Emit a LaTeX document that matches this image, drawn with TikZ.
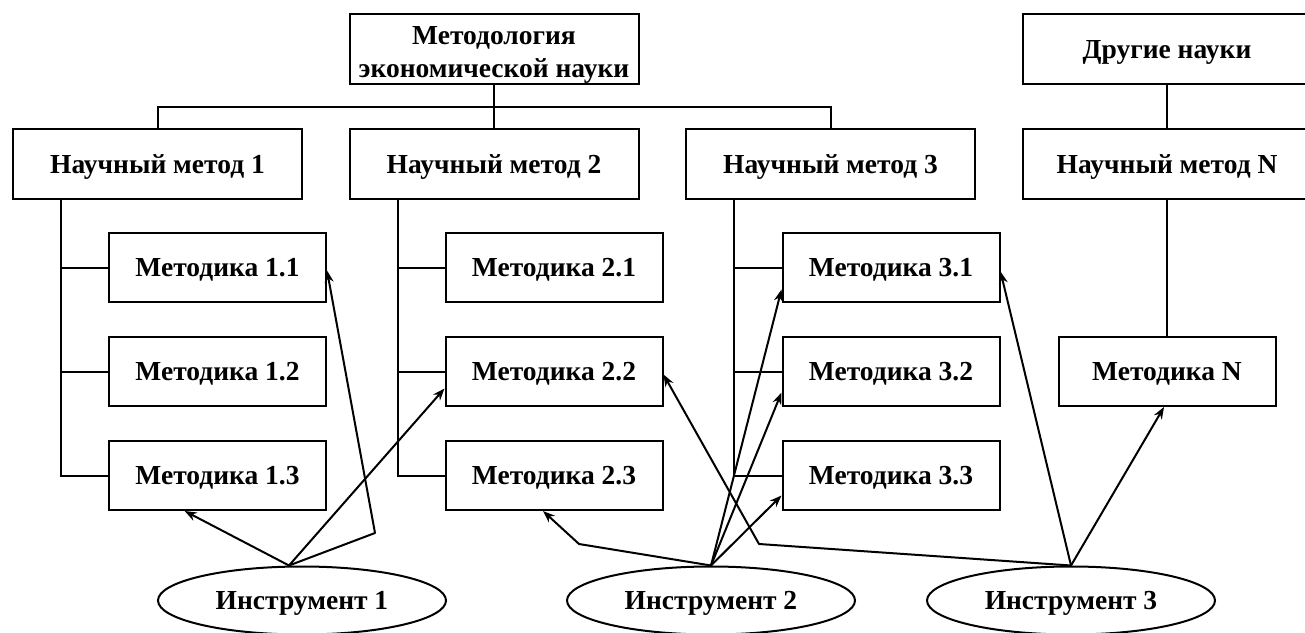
\documentclass[tikz,border=0pt]{standalone}
\usepackage{fontspec}
\setmainfont{Liberation Serif}
\usetikzlibrary{shapes.geometric,arrows.meta,calc}
\begin{document}
\begin{tikzpicture}[x=1bp,y=-1bp,
  every node/.style={font=\fontsize{27.5bp}{33bp}\selectfont\bfseries},
  oneline/.style={text height=21.5bp, text depth=3bp},
  lvl/.style={draw, line width=2bp, inner sep=0pt, minimum width=289bp, minimum height=70bp, align=center},
  mbox/.style={draw, oneline, line width=2bp, inner sep=0pt, minimum width=217bp, minimum height=69bp},
  tool/.style={draw, oneline, ellipse, line width=2bp, inner sep=0pt, minimum width=288bp, minimum height=68bp},
  link/.style={line width=2bp},
  ref/.style={line width=2bp, line join=round, -{Stealth[length=12bp,width=9bp]}}
]
\useasboundingbox (0,0) rectangle (1305,633);
\clip (0,0) rectangle (1305,633);

% top level
\node[lvl] (top) at (494,49)
  {\raisebox{-12bp}[0pt][0pt]{\begin{tabular}{@{}c@{}}Методология\\экономической науки\end{tabular}}};
\node[lvl, oneline] (other) at (1167,49) {Другие науки};

% scientific methods
\node[lvl, oneline] (nm1) at (157.5,164) {Научный метод 1};
\node[lvl, oneline] (nm2) at (494,164) {Научный метод 2};
\node[lvl, oneline] (nm3) at (830.5,164) {Научный метод 3};
\node[lvl, oneline] (nmN) at (1167,164) {Научный метод N};

% techniques
\node[mbox] (m11) at (217.5,267.5) {Методика 1.1};
\node[mbox] (m12) at (217.5,371.5) {Методика 1.2};
\node[mbox] (m13) at (217.5,475.5) {Методика 1.3};
\node[mbox] (m21) at (554,267.5) {Методика 2.1};
\node[mbox] (m22) at (554,371.5) {Методика 2.2};
\node[mbox] (m23) at (554,475.5) {Методика 2.3};
\node[mbox] (m31) at (891,267.5) {Методика 3.1};
\node[mbox] (m32) at (891,371.5) {Методика 3.2};
\node[mbox] (m33) at (891,475.5) {Методика 3.3};
\node[mbox] (mN) at (1167,371.5) {Методика N};

% instruments
\node[tool] (i1) at (302,600.5) {Инструмент 1};
\node[tool] (i2) at (711,600.5) {Инструмент 2};
\node[tool] (i3) at (1071,600.5) {Инструмент 3};

% hierarchy
\coordinate (bus) at (494,107);
\draw[link] (top.south) -- (nm2.north);
\draw[link] (nm1.north) |- (bus) -| (nm3.north);
\draw[link] (other.south) -- (nmN.north);
\draw[link] (nmN.south) -- (mN.north);
\foreach \k in {1,2,3} {
  \coordinate (t\k) at ($(nm\k.south west)+(49,0)$);
  \draw[link] (t\k) |- (m\k3.west);
  \draw[link] (t\k |- m\k1.west) -- (m\k1.west);
  \draw[link] (t\k |- m\k2.west) -- (m\k2.west);
}

% instrument 1
\coordinate (s1) at ($(i1.north)+(-13,0)$);
\coordinate (b1) at (375,533);
\draw[ref] (s1) -- ($(m13.south west)!0.35!(m13.south east)$);
\draw[ref] (s1) -- ($(m22.west)+(0,17)$);
\draw[ref] (s1) -- (b1) -- ($(m11.east)+(0,3)$);

% instrument 2
\coordinate (b2) at (579,544);
\draw[ref] (i2.north) -- (b2) -- ($(m23.south)+(-11,0)$);
\draw[ref] (i2.north) -- ($(m31.west)+(0,22)$);
\draw[ref] (i2.north) -- ($(m32.west)+(0,21)$);
\draw[ref] (i2.north) -- ($(m33.west)+(0,20)$);

% instrument 3
\coordinate (b3) at (759,544);
\draw[ref] (i3.north) -- ($(m31.east)+(0,4)$);
\draw[ref] (i3.north) -- ($(mN.south)+(-3,0)$);
\draw[ref] (i3.north) -- (b3) -- ($(m22.east)+(0,3)$);
\end{tikzpicture}
\end{document}
